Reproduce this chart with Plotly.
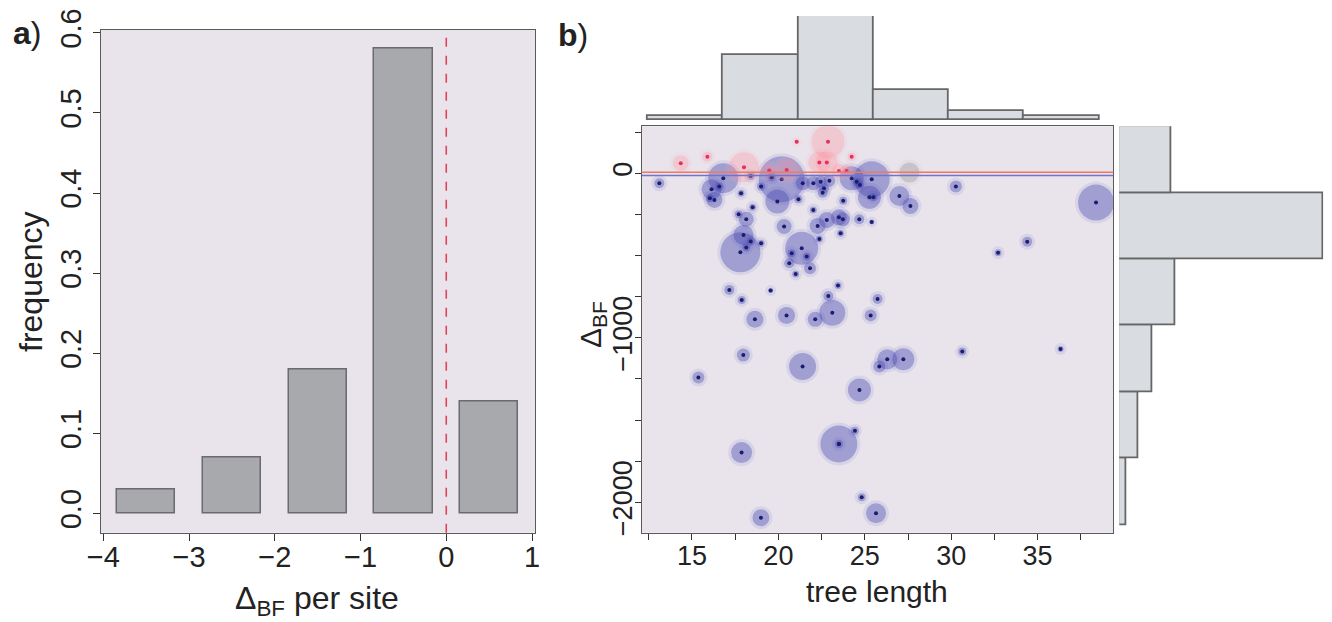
import plotly.graph_objects as go

# ---------------- data ----------------
# panel a: frequency of delta BF per site
freq_centers = [-3.5, -2.5, -1.5, -0.5, 0.5]
freq_values = [0.03, 0.07, 0.18, 0.58, 0.14]
a_xticks = [-4, -3, -2, -1, 0, 1]
a_yticks = [0.0, 0.1, 0.2, 0.3, 0.4, 0.5, 0.6]
a_yticktext = ["0.0", "0.1", "0.2", "0.3", "0.4", "0.5", "0.6"]

# panel b: tree length vs delta BF (negative = blue, positive = red)
blue_x = [13.11, 16.81, 16.58, 16.13, 16.04, 16.30, 18.40, 17.84, 18.51, 17.70,
          18.14, 17.80, 17.98, 18.40, 18.14, 19.00, 19.61, 20.19, 19.00, 19.94,
          21.16, 21.41, 22.02, 22.45, 22.95, 22.64, 22.56, 23.75, 22.02, 22.80,
          22.27, 23.50, 23.73, 22.37, 23.60, 24.68, 25.40, 20.33, 21.35, 20.77,
          21.64, 20.63, 21.83, 21.00, 24.24, 24.53, 24.72, 25.40, 25.27, 25.50,
          27.00, 27.64, 30.27, 38.38, 34.40, 32.71, 17.16, 17.88, 19.55, 18.64,
          20.47, 22.13, 23.12, 22.89, 23.45, 25.34, 25.74, 17.97, 15.37, 21.40,
          24.69, 25.84, 26.30, 27.23, 30.64, 36.33, 23.50, 23.50, 24.43, 17.87,
          24.82, 25.65, 18.99]
blue_y = [-61, -30, -81, -98, -152, -162, -16, -122, -207, -249,
          -280, -480, -375, -415, -452, -426, -25, -37, -81, -172,
          -158, -61, -61, -51, -45, -91, -118, -167, -223, -284,
          -320, -268, -280, -400, -365, -280, -296, -324, -456, -486,
          -506, -547, -578, -612, -30, -51, -71, -37, -146, -146,
          -138, -199, -81, -178, -416, -483, -709, -770, -713, -888,
          -864, -888, -848, -746, -683, -864, -764, -1105, -1242, -1175,
          -1317, -1175, -1131, -1131, -1084, -1068, -1646, -1646, -1565, -1698,
          -1970, -2067, -2094]
blue_size = [10, 30, 8, 20, 8, 16, 8, 7, 7, 8,
             15, 40, 20, 8, 8, 7, 8, 46, 8, 24,
             8, 14, 14, 12, 12, 10, 10, 8, 7, 16,
             16, 16, 14, 7, 7, 10, 5, 15, 33, 8,
             8, 10, 12, 7, 24, 8, 8, 36, 23, 8,
             20, 16, 12, 36, 10, 7, 10, 8, 5, 17,
             17, 15, 26, 10, 7, 12, 10, 13, 12, 27,
             23, 12, 20, 22, 8, 6, 37, 8, 8, 21,
             8, 20, 17]

red_x = [14.35, 15.89, 18.01, 21.06, 22.87, 22.37, 22.80, 24.24, 19.47, 20.48, 23.50, 23.95]
red_y = [61, 101, 36, 192, 192, 65, 65, 101, 16, 20, 14, 14]
red_size = [16, 10, 30, 5, 33, 22, 22, 8, 14, 22, 14, 12]

gray_x = [27.58]
gray_y = [4]
gray_size = [20]

# reference lines (mean of positive / negative groups)
ref_pos = 6
ref_neg = -14

# marginal histograms
top_edges = [12.42, 16.78, 21.15, 25.50, 29.86, 34.22, 38.58]
top_counts = [2, 30, 48, 14, 4, 2]
right_edges = [-2138, -1733, -1331, -926, -525, -120, 286]
right_counts = [2, 5, 9, 15, 55, 14]

b_xticks = [15, 20, 25, 30, 35]
b_yticks = [0, -1000, -2000]
b_yticktext = ["0", "\u22121000", "\u22122000"]

# ---------------- figure ----------------
W, H = 1332, 622
OFF = 8  # the page body adds an 8px margin around the figure
FONT = "Liberation Sans, Arial, sans-serif"
BG = "#e9e4ec"
FRAME = "#5a5a5a"


def px_x(p):
    return (p - OFF) / W


def px_y(p):
    return 1 - (p - OFF) / H


fig = go.Figure()

# panel a bars
fig.add_trace(go.Bar(
    x=freq_centers, y=freq_values, width=0.68,
    marker=dict(color="#a8a9ad", line=dict(color="#6b6b6f", width=1.5)),
    xaxis="x", yaxis="y", showlegend=False, hoverinfo="skip"))


# panel b scatter: halos, circles, dots
def circles(xs, ys, sizes, fill, halo, dot, show_dot=True):
    fig.add_trace(go.Scatter(
        x=xs, y=ys, mode="markers",
        marker=dict(size=[s + 6 for s in sizes], color=halo, line=dict(width=0)),
        xaxis="x2", yaxis="y2", showlegend=False, hoverinfo="skip"))
    fig.add_trace(go.Scatter(
        x=xs, y=ys, mode="markers",
        marker=dict(size=sizes, color=fill, line=dict(width=0)),
        xaxis="x2", yaxis="y2", showlegend=False, hoverinfo="skip"))
    if show_dot:
        fig.add_trace(go.Scatter(
            x=xs, y=ys, mode="markers",
            marker=dict(size=4, color=dot, line=dict(width=0)),
            xaxis="x2", yaxis="y2", showlegend=False, hoverinfo="skip"))


circles(blue_x, blue_y, blue_size, "rgba(60,60,172,0.5)", "rgba(105,105,200,0.18)", "#1c1c70")
circles(red_x, red_y, red_size, "rgba(255,140,150,0.36)", "rgba(255,170,180,0.15)", "#e8305e")
circles(gray_x, gray_y, gray_size, "rgba(145,145,145,0.5)", "rgba(170,170,170,0.14)", "#999999",
        show_dot=False)

# top histogram
top_centers = [(a + b) / 2 for a, b in zip(top_edges[:-1], top_edges[1:])]
top_widths = [b - a for a, b in zip(top_edges[:-1], top_edges[1:])]
fig.add_trace(go.Bar(
    x=top_centers, y=top_counts, width=top_widths,
    marker=dict(color="#d9dce0", line=dict(color="#666666", width=1.8)),
    xaxis="x3", yaxis="y3", showlegend=False, hoverinfo="skip"))

# right histogram
right_centers = [(a + b) / 2 for a, b in zip(right_edges[:-1], right_edges[1:])]
right_widths = [b - a for a, b in zip(right_edges[:-1], right_edges[1:])]
fig.add_trace(go.Bar(
    y=right_centers, x=right_counts, width=right_widths, orientation="h",
    marker=dict(color="#d9dce0", line=dict(color="#666666", width=1.8)),
    xaxis="x4", yaxis="y4", showlegend=False, hoverinfo="skip"))

axis_common = dict(showgrid=False, zeroline=False, showline=True, mirror=True,
                   linecolor=FRAME, linewidth=1.2, ticks="outside", tickcolor="#333333",
                   tickwidth=1.2, fixedrange=True)

b_x_range = [12.09, 39.38]
b_y_range = [-2185, 286]

fig.update_layout(
    width=W, height=H, autosize=False,
    margin=dict(l=0, r=0, t=0, b=0, pad=0, autoexpand=False),
    paper_bgcolor="white", plot_bgcolor="rgba(0,0,0,0)",
    font=dict(family=FONT, color="#222222"),
    bargap=0,
    xaxis=dict(domain=[px_x(101), px_x(535)], range=[-4.027, 1.035],
               tickvals=a_xticks, ticklen=7, tickfont=dict(size=29),
               ticklabelstandoff=-9, anchor="y", **axis_common),
    yaxis=dict(domain=[px_y(532.7), px_y(29.6)], range=[-0.024, 0.604],
               tickvals=a_yticks, ticktext=a_yticktext, tickangle=-90, ticklen=7,
               tickfont=dict(size=29), anchor="x", **axis_common),
    xaxis2=dict(domain=[px_x(641.7), px_x(1113.3)], range=b_x_range,
                tickvals=b_xticks, ticklen=6, tickfont=dict(size=27),
                ticklabelstandoff=-7,
                minor=dict(dtick=2.5, tick0=12.5, ticks="outside", ticklen=6,
                           tickcolor="#333333", tickwidth=1.2, showgrid=False),
                anchor="y2", **axis_common),
    yaxis2=dict(domain=[px_y(532.7), px_y(126.2)], range=b_y_range,
                tickvals=b_yticks, ticktext=b_yticktext, tickangle=-90, ticklen=6,
                tickfont=dict(size=27), ticklabelstandoff=-8,
                minor=dict(dtick=250, tick0=0, ticks="outside", ticklen=6,
                           tickcolor="#333333", tickwidth=1.2, showgrid=False),
                anchor="x2", **axis_common),
    xaxis3=dict(domain=[px_x(641.7), px_x(1113.3)], range=b_x_range, visible=False,
                anchor="y3", fixedrange=True),
    yaxis3=dict(domain=[px_y(120), px_y(16)], range=[0, 48], visible=False,
                anchor="x3", fixedrange=True),
    xaxis4=dict(domain=[px_x(1119.3), px_x(1323.3)], range=[0, 55], visible=False,
                anchor="y4", fixedrange=True),
    yaxis4=dict(domain=[px_y(532.7), px_y(126.2)], range=b_y_range, visible=False,
                anchor="x4", fixedrange=True),
)

# backgrounds and reference lines
fig.add_shape(type="rect", xref="x domain", yref="y domain", x0=0, x1=1, y0=0, y1=1,
              fillcolor=BG, line=dict(width=0), layer="below")
fig.add_shape(type="rect", xref="x2 domain", yref="y2 domain", x0=0, x1=1, y0=0, y1=1,
              fillcolor=BG, line=dict(width=0), layer="below")
fig.add_shape(type="line", xref="x", yref="y domain", x0=0, x1=0, y0=0, y1=1,
              line=dict(color="#e0405a", width=1.6, dash="dash"))
fig.add_shape(type="line", xref="x2 domain", yref="y2", x0=0, x1=1, y0=ref_pos, y1=ref_pos,
              line=dict(color="#f07a5a", width=1.4))
fig.add_shape(type="line", xref="x2 domain", yref="y2", x0=0, x1=1, y0=ref_neg, y1=ref_neg,
              line=dict(color="#7272d0", width=1.4))


# labels
def label(text, x, y, size, angle=0):
    fig.add_annotation(text=text, x=px_x(x), y=px_y(y), xref="paper", yref="paper",
                       showarrow=False, textangle=angle, xanchor="center", yanchor="middle",
                       font=dict(size=size, family=FONT, color="#222222"))


label("<b>a</b>)", 27, 33, 32)
label("<b>b</b>)", 573, 35, 32)
label("frequency", 31, 282, 32, -90)
label("\u0394<sub>BF</sub> per site", 317, 600, 32)
label("tree length", 877, 591, 30)
label("\u0394<sub>BF</sub>", 592, 325, 30, -90)

fig.write_html("out.html")
